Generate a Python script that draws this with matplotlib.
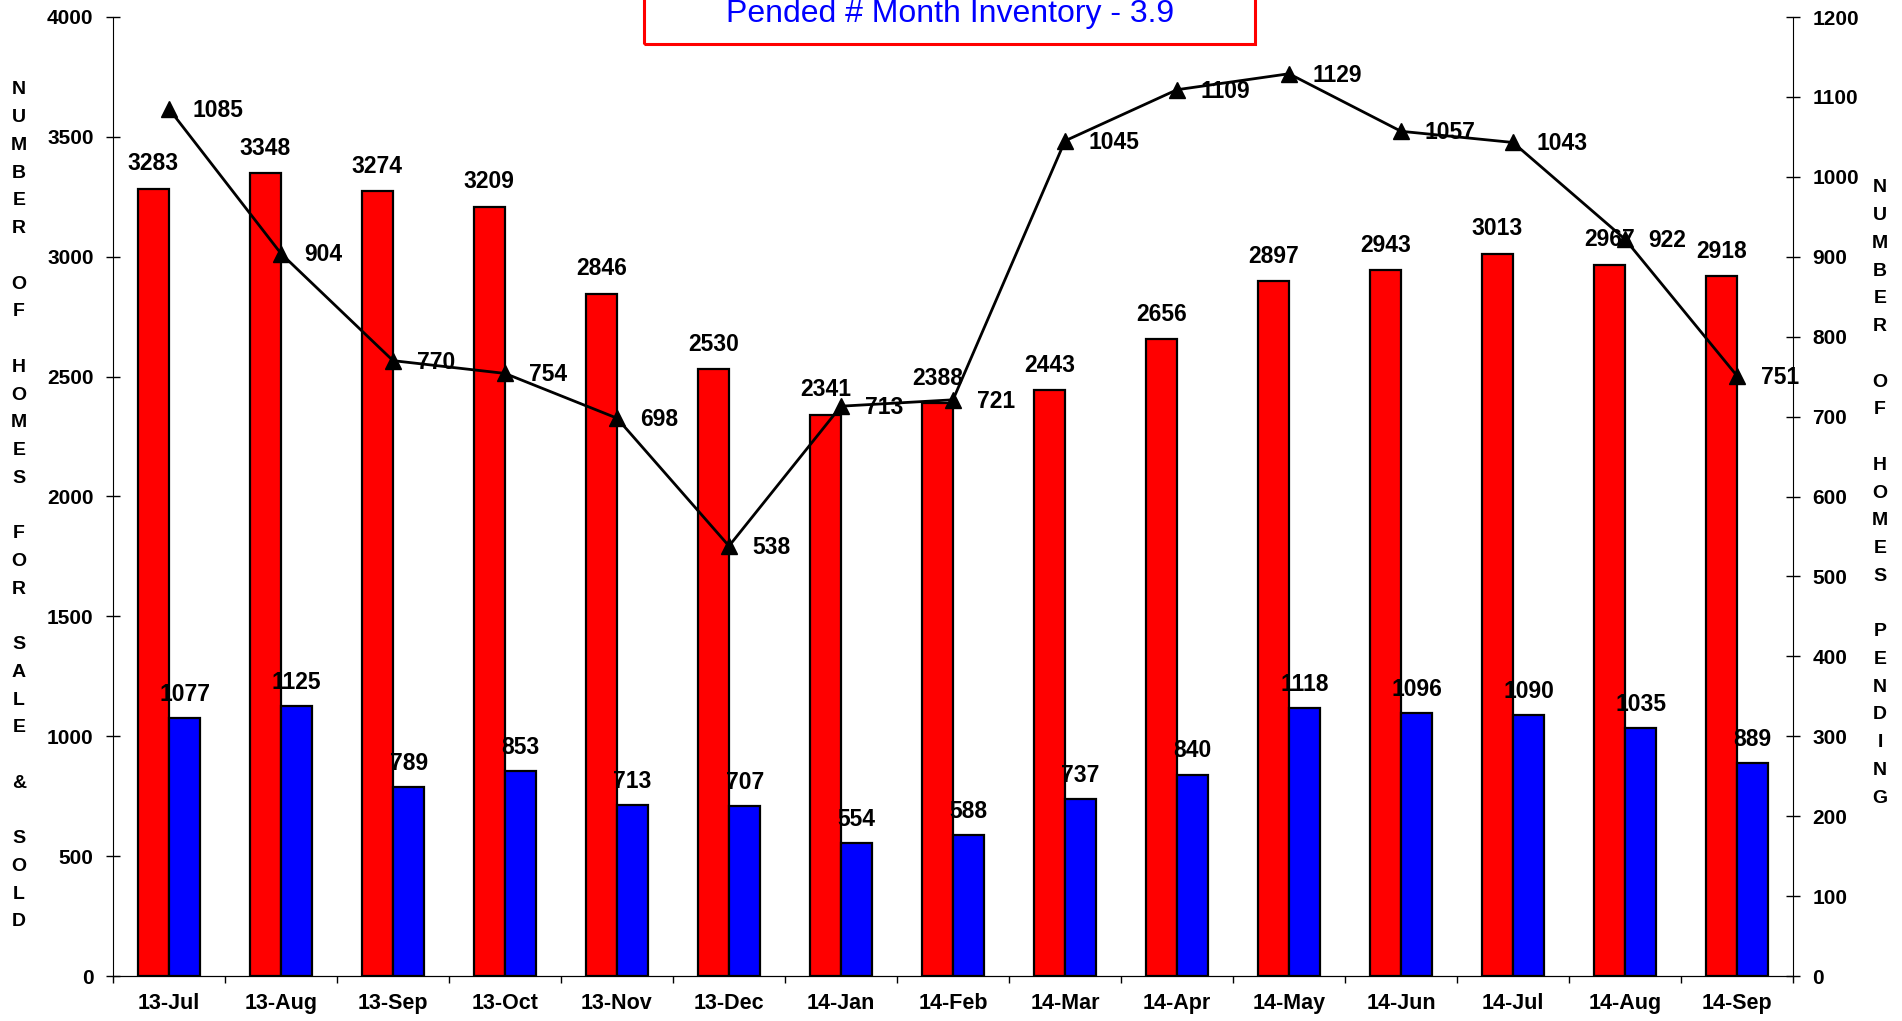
import numpy as np
import matplotlib
matplotlib.use("Agg")
import matplotlib.pyplot as plt
from matplotlib.patches import Rectangle

plt.rcParams['font.family'] = ['Liberation Sans', 'DejaVu Sans']
plt.rcParams['font.weight'] = 'bold'

# data
months = ['13-Jul', '13-Aug', '13-Sep', '13-Oct', '13-Nov', '13-Dec', '14-Jan',
          '14-Feb', '14-Mar', '14-Apr', '14-May', '14-Jun', '14-Jul', '14-Aug', '14-Sep']
for_sale = [3283, 3348, 3274, 3209, 2846, 2530, 2341, 2388, 2443, 2656, 2897, 2943, 3013, 2967, 2918]
sold = [1077, 1125, 789, 853, 713, 707, 554, 588, 737, 840, 1118, 1096, 1090, 1035, 889]
pending = [1085, 904, 770, 754, 698, 538, 713, 721, 1045, 1109, 1129, 1057, 1043, 922, 751]
title_txt = 'Pended # Month Inventory - 3.9'
left_label = 'NUMBER OF HOMES FOR SALE & SOLD'
right_label = 'NUMBER OF HOMES PENDING'

W, H = 1902, 1021
fig = plt.figure(figsize=(W / 100, H / 100), dpi=100)
ax = fig.add_axes([113 / W, 1 - 976 / H, (1793 - 113) / W, (976 - 17) / H])

x = np.arange(len(months))
w = 0.28
b1 = ax.bar(x - w / 2, for_sale, w, color='#ff0000', edgecolor='black', linewidth=1.6)
b2 = ax.bar(x + w / 2, sold, w, color='#0000ff', edgecolor='black', linewidth=1.6)

for xi, v in zip(x, for_sale):
    ax.annotate(str(v), (xi - w / 2, v), xytext=(0, 18), textcoords='offset points',
                ha='center', va='center', fontsize=16.5, fontweight='bold')
for xi, v in zip(x, sold):
    ax.annotate(str(v), (xi + w / 2, v), xytext=(0, 17), textcoords='offset points',
                ha='center', va='center', fontsize=16.5, fontweight='bold')

ax.set_xlim(-0.5, len(months) - 0.5)
ax.set_ylim(0, 4000)
ax.set_yticks(range(0, 4001, 500))
ax.set_xticks(x)
ax.set_xticklabels(months)
ax.set_xticks(np.arange(-0.5, len(months), 1), minor=True)
ax.tick_params(axis='x', which='major', length=0, pad=12, labelsize=15.5)
ax.tick_params(axis='x', which='minor', length=5, width=1, direction='out')
ax.tick_params(axis='y', length=10, width=1, direction='inout', pad=9, labelsize=15)
ax.spines['top'].set_visible(False)
ax.spines['right'].set_visible(False)

ax2 = ax.twinx()
ax2.plot(x, pending, color='black', linewidth=2, marker='^', markersize=11)
for xi, v in zip(x, pending):
    ax2.annotate(str(v), (xi, v), xytext=(17, -1), textcoords='offset points',
                 ha='left', va='center', fontsize=16.5, fontweight='bold')
ax2.set_ylim(0, 1200)
ax2.set_yticks(range(0, 1201, 100))
ax2.tick_params(axis='y', length=10, width=1, direction='inout', pad=9, labelsize=15)
ax2.spines['top'].set_visible(False)
ax2.spines['left'].set_visible(False)

# stacked vertical axis titles
step = 27.73
for i, ch in enumerate(left_label):
    fig.text(19 / W, 1 - (90 + i * step) / H, ch, ha='center', va='center',
             fontsize=14, fontweight='bold')
for i, ch in enumerate(right_label):
    fig.text(1880 / W, 1 - (188 + i * step) / H, ch, ha='center', va='center',
             fontsize=14, fontweight='bold')

# title box, cut off at the top edge
fig.patches.append(Rectangle((644 / W, 1 - 44 / H), (1255 - 644) / W, 60 / H,
                             transform=fig.transFigure, fill=False,
                             edgecolor='#ff0000', linewidth=2.2, clip_on=False))
fig.text(950 / W, 1 - 22 / H, title_txt, ha='center', va='baseline',
         fontsize=23, fontweight='normal', color='#0000ff')

fig.savefig('out.png', dpi=100)
